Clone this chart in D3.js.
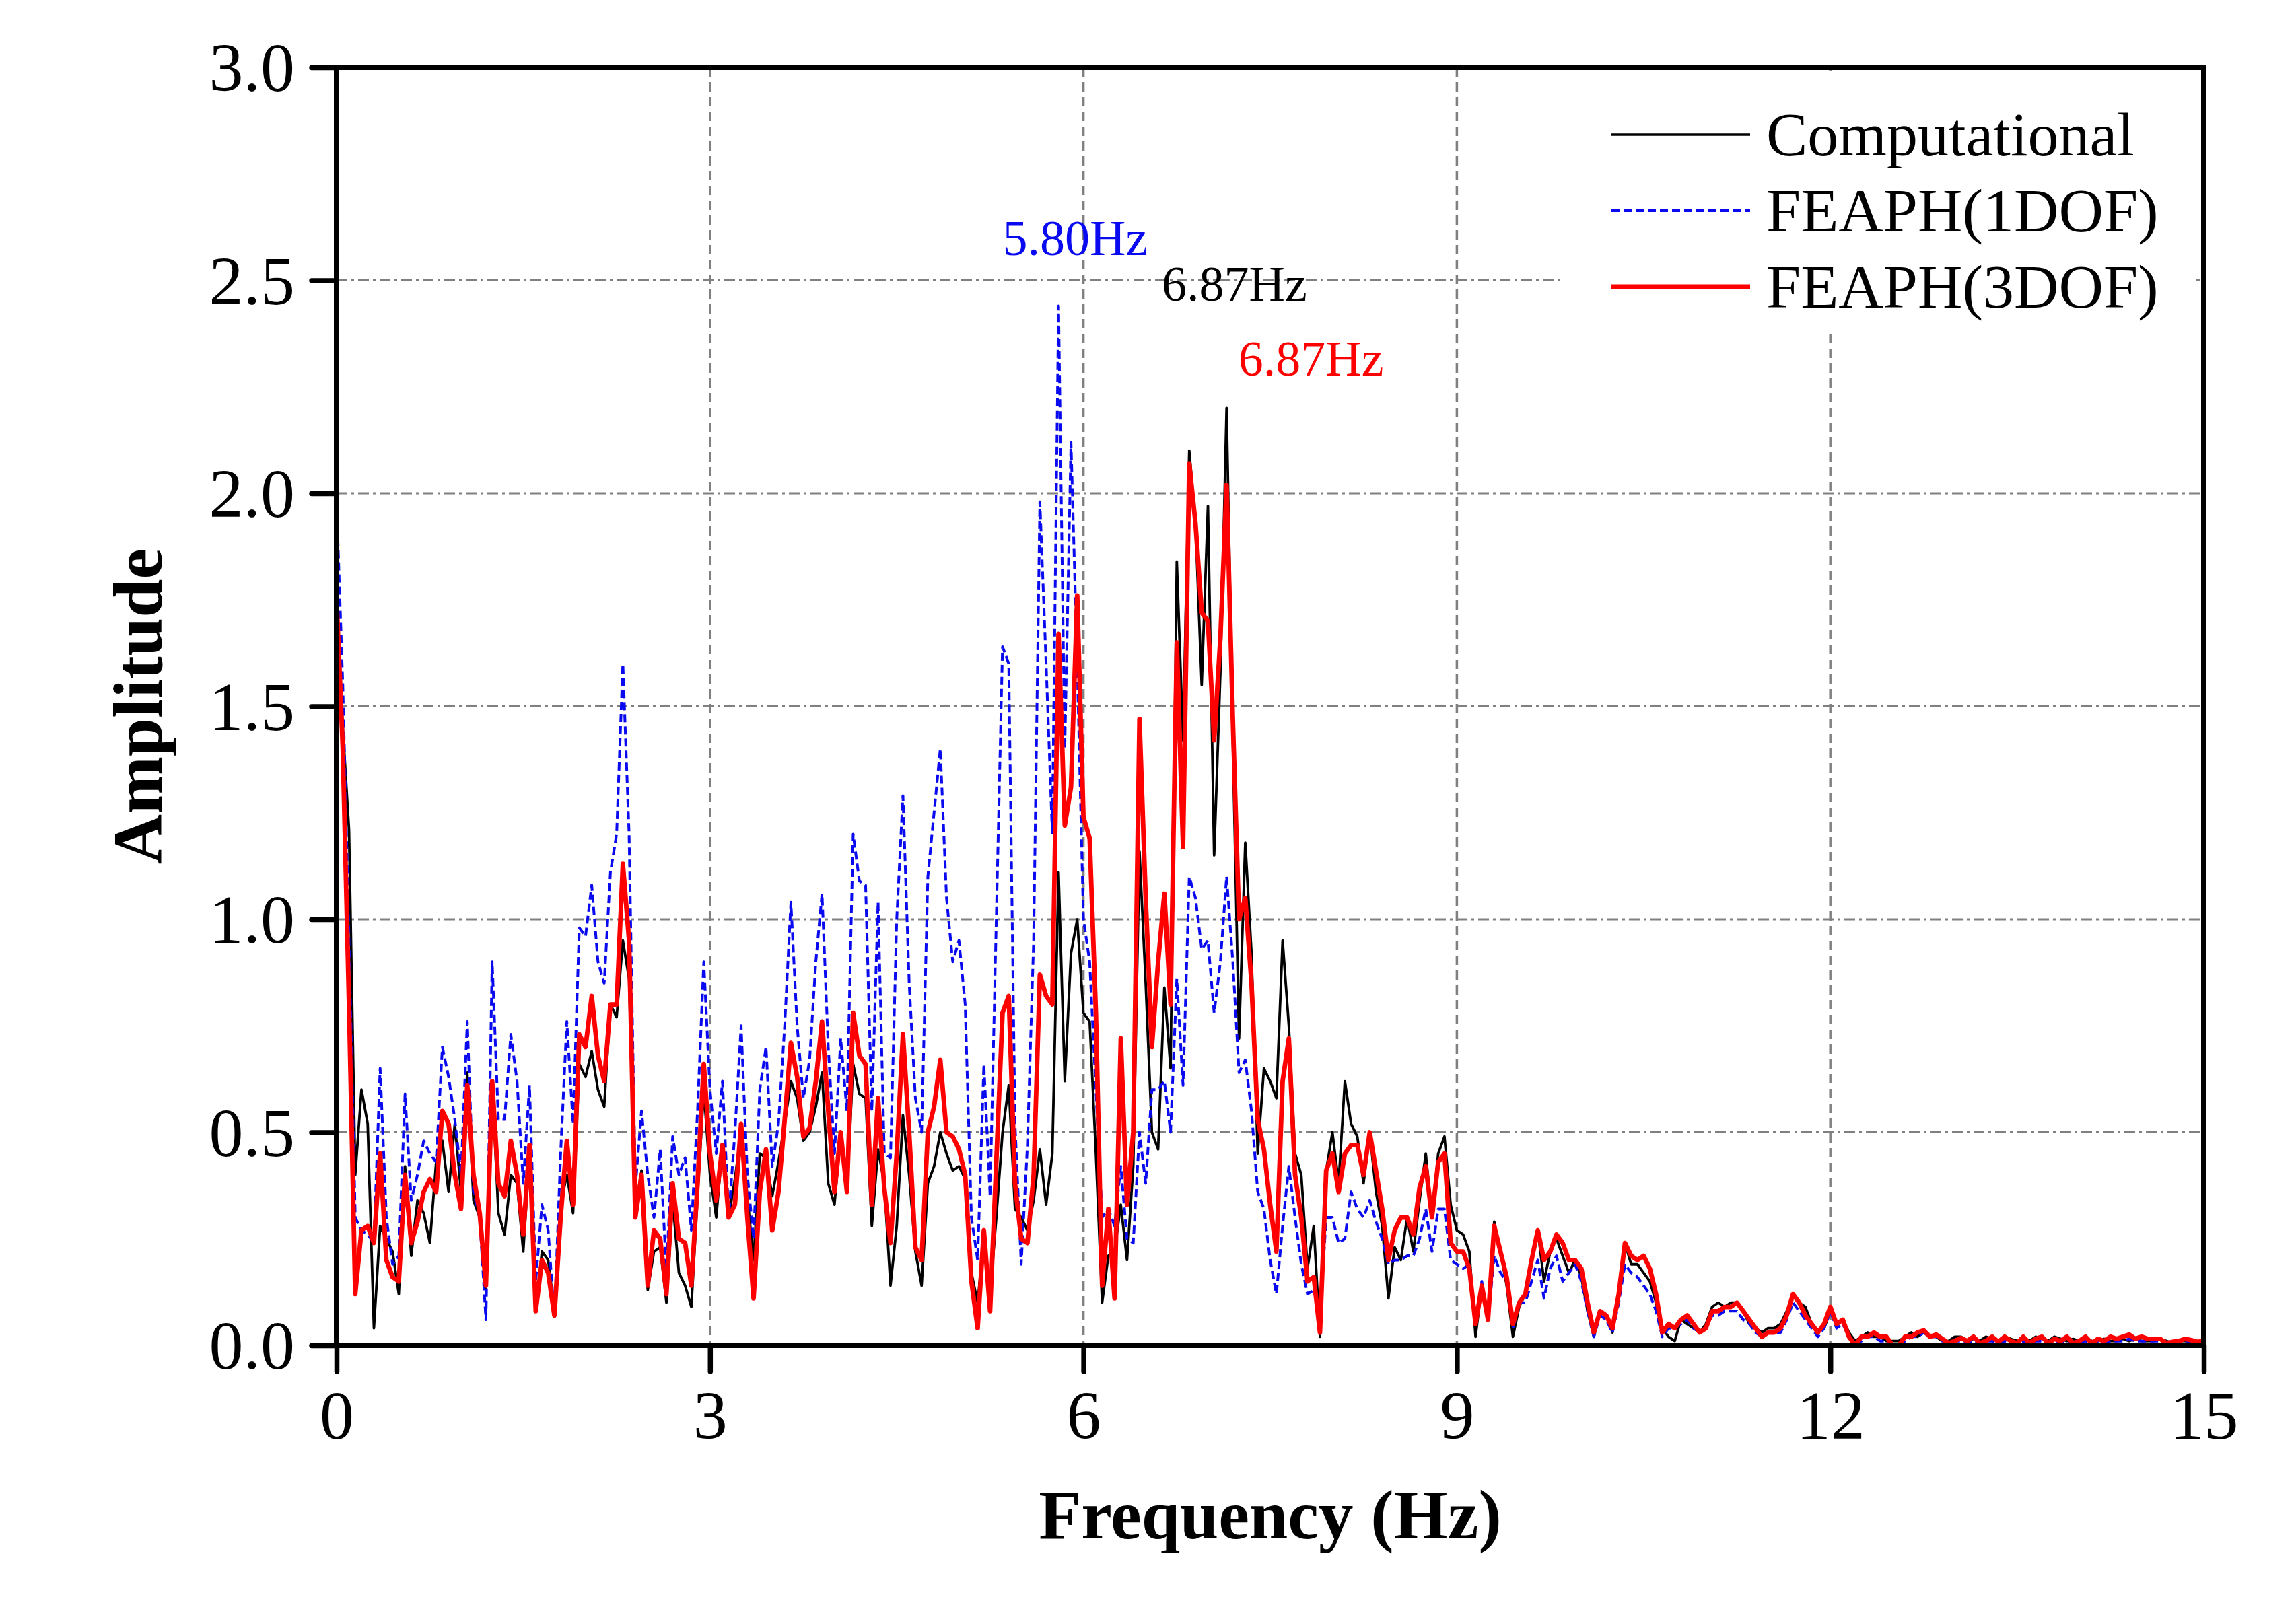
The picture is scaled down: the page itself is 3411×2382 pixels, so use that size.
<!DOCTYPE html>
<html><head><meta charset="utf-8">
<script src="https://cdn.jsdelivr.net/npm/d3@7"></script>
<style>
html,body{margin:0;padding:0;background:#fff;}
svg{display:block;}
</style></head>
<body>
<svg id="chart" width="3411" height="2382"></svg>
<script>
// ---------------- DATA ----------------
const freqStart = 0, freqStep = 0.05;   // Hz, FFT grid 0 .. 15 Hz
const computational = [
1.78,1.45,1.21,0.40,0.60,0.52,0.04,0.28,0.25,0.22,
0.12,0.42,0.21,0.34,0.31,0.24,0.43,0.48,0.36,0.52,
0.36,0.64,0.34,0.30,0.13,0.62,0.31,0.26,0.40,0.38,
0.22,0.45,0.08,0.22,0.20,0.08,0.33,0.40,0.31,0.66,
0.63,0.69,0.60,0.56,0.80,0.77,0.95,0.86,0.32,0.41,
0.13,0.22,0.23,0.10,0.34,0.17,0.14,0.09,0.35,0.60,
0.40,0.30,0.47,0.30,0.39,0.50,0.35,0.20,0.45,0.44,
0.35,0.43,0.52,0.62,0.58,0.48,0.50,0.56,0.64,0.38,
0.33,0.50,0.36,0.66,0.59,0.58,0.28,0.46,0.38,0.14,
0.28,0.54,0.40,0.22,0.14,0.38,0.42,0.50,0.45,0.41,
0.42,0.39,0.17,0.10,0.25,0.12,0.30,0.50,0.61,0.32,
0.30,0.27,0.34,0.46,0.33,0.45,1.11,0.62,0.92,1.00,
0.78,0.76,0.45,0.10,0.21,0.22,0.33,0.20,0.42,1.16,
0.85,0.50,0.46,0.84,0.65,1.84,1.42,2.10,1.93,1.55,
1.97,1.15,1.58,2.20,1.42,0.72,1.18,0.92,0.45,0.65,
0.62,0.58,0.95,0.75,0.45,0.40,0.18,0.28,0.02,0.41,
0.50,0.38,0.62,0.52,0.49,0.38,0.50,0.36,0.28,0.11,
0.23,0.20,0.30,0.22,0.34,0.45,0.30,0.45,0.49,0.33,
0.27,0.26,0.22,0.02,0.14,0.06,0.29,0.22,0.14,0.02,
0.09,0.12,0.20,0.27,0.15,0.22,0.25,0.21,0.17,0.20,
0.16,0.08,0.02,0.08,0.07,0.03,0.12,0.24,0.19,0.19,
0.17,0.15,0.10,0.04,0.02,0.01,0.06,0.05,0.04,0.03,
0.05,0.09,0.10,0.09,0.10,0.10,0.08,0.05,0.04,0.03,
0.04,0.04,0.05,0.08,0.12,0.10,0.09,0.05,0.03,0.04,
0.08,0.05,0.06,0.03,0.01,0.02,0.03,0.02,0.02,0.01,
0.01,0.01,0.02,0.03,0.02,0.03,0.02,0.02,0.01,0.01,
0.02,0.02,0.01,0.015,0.01,0.02,0.015,0.01,0.02,0.015,
0.01,0.015,0.01,0.02,0.015,0.01,0.02,0.015,0.01,0.015,
0.01,0.015,0.01,0.01,0.015,0.01,0.01,0.015,0.01,0.015,
0.01,0.01,0.01,0.015,0.01,0.005,0.01,0.01,0.008,0.01,
0.008];
const feaph1dof = [
1.98,1.55,0.95,0.30,0.27,0.26,0.24,0.65,0.30,0.19,
0.21,0.59,0.34,0.40,0.48,0.45,0.43,0.70,0.63,0.53,
0.40,0.76,0.36,0.30,0.06,0.90,0.53,0.53,0.73,0.62,
0.38,0.61,0.15,0.33,0.27,0.06,0.45,0.76,0.52,0.98,
0.96,1.08,0.90,0.85,1.11,1.20,1.60,1.20,0.37,0.55,
0.40,0.30,0.46,0.17,0.49,0.40,0.44,0.27,0.55,0.90,
0.60,0.45,0.62,0.30,0.50,0.75,0.40,0.25,0.60,0.70,
0.42,0.52,0.75,1.04,0.75,0.58,0.67,0.90,1.06,0.70,
0.45,0.72,0.55,1.20,1.09,1.08,0.55,1.04,0.45,0.44,
1.00,1.29,0.85,0.58,0.50,1.10,1.25,1.40,1.05,0.90,
0.95,0.80,0.30,0.20,0.66,0.35,1.00,1.64,1.60,0.52,
0.19,0.47,0.95,1.98,1.60,1.20,2.44,1.40,2.12,1.60,
1.00,0.90,0.60,0.30,0.32,0.28,0.42,0.25,0.24,0.50,
0.38,0.60,0.60,0.62,0.50,0.86,0.61,1.10,1.05,0.93,
0.95,0.78,0.90,1.10,0.90,0.64,0.67,0.55,0.36,0.32,
0.20,0.12,0.28,0.42,0.30,0.19,0.12,0.13,0.07,0.30,
0.30,0.24,0.25,0.36,0.32,0.30,0.34,0.29,0.25,0.19,
0.20,0.20,0.21,0.21,0.25,0.32,0.22,0.32,0.32,0.20,
0.19,0.18,0.19,0.05,0.15,0.06,0.21,0.17,0.15,0.04,
0.10,0.10,0.15,0.20,0.11,0.18,0.21,0.15,0.17,0.19,
0.15,0.08,0.02,0.07,0.06,0.03,0.10,0.19,0.17,0.16,
0.14,0.12,0.08,0.02,0.04,0.04,0.05,0.06,0.04,0.03,
0.04,0.07,0.07,0.08,0.08,0.08,0.06,0.05,0.03,0.02,
0.03,0.03,0.03,0.06,0.10,0.08,0.06,0.04,0.02,0.04,
0.08,0.04,0.05,0.02,0.00,0.01,0.02,0.02,0.01,0.01,
0.00,0.00,0.01,0.02,0.02,0.03,0.02,0.02,0.01,0.005,
0.01,0.01,0.005,0.01,0.005,0.01,0.01,0.005,0.01,0.005,
0.005,0.01,0.005,0.01,0.01,0.005,0.01,0.005,0.01,0.005,
0.005,0.01,0.005,0.01,0.005,0.01,0.01,0.01,0.015,0.01,
0.01,0.01,0.01,0.01,0.005,0.005,0.005,0.01,0.01,0.005,
0.005];
const feaph3dof = [
1.75,1.40,0.80,0.12,0.27,0.28,0.24,0.45,0.20,0.16,
0.15,0.40,0.24,0.29,0.36,0.39,0.36,0.55,0.52,0.40,
0.32,0.61,0.40,0.31,0.14,0.62,0.38,0.35,0.48,0.40,
0.26,0.47,0.08,0.20,0.17,0.07,0.30,0.48,0.33,0.73,
0.70,0.82,0.68,0.62,0.80,0.80,1.13,0.95,0.30,0.40,
0.14,0.27,0.25,0.12,0.38,0.25,0.24,0.14,0.38,0.66,
0.45,0.34,0.47,0.30,0.33,0.52,0.30,0.11,0.36,0.46,
0.27,0.36,0.53,0.71,0.63,0.49,0.51,0.62,0.76,0.55,
0.36,0.50,0.36,0.78,0.68,0.66,0.33,0.58,0.37,0.24,
0.45,0.73,0.50,0.23,0.20,0.50,0.56,0.67,0.50,0.49,
0.46,0.40,0.15,0.04,0.27,0.08,0.43,0.78,0.82,0.38,
0.25,0.24,0.40,0.87,0.82,0.80,1.67,1.22,1.31,1.76,
1.24,1.19,0.78,0.14,0.32,0.11,0.72,0.33,0.50,1.47,
1.05,0.70,0.90,1.06,0.80,1.65,1.17,2.07,1.93,1.72,
1.70,1.42,1.66,2.02,1.47,1.00,1.05,0.85,0.53,0.46,
0.33,0.22,0.62,0.72,0.40,0.30,0.15,0.16,0.03,0.41,
0.45,0.36,0.45,0.47,0.47,0.40,0.50,0.41,0.32,0.20,
0.27,0.30,0.30,0.26,0.37,0.42,0.30,0.43,0.45,0.24,
0.22,0.22,0.18,0.05,0.14,0.06,0.28,0.22,0.16,0.05,
0.10,0.12,0.20,0.27,0.20,0.22,0.26,0.24,0.20,0.20,
0.18,0.10,0.03,0.08,0.07,0.04,0.12,0.24,0.21,0.20,
0.21,0.18,0.12,0.03,0.05,0.04,0.06,0.07,0.05,0.03,
0.04,0.08,0.08,0.09,0.09,0.10,0.08,0.06,0.04,0.02,
0.03,0.03,0.04,0.07,0.12,0.10,0.07,0.05,0.03,0.05,
0.09,0.05,0.06,0.02,0.00,0.02,0.02,0.03,0.02,0.02,
0.00,0.00,0.02,0.02,0.03,0.035,0.02,0.025,0.015,0.005,
0.01,0.017,0.01,0.02,0.005,0.01,0.02,0.008,0.02,0.01,
0.005,0.02,0.005,0.015,0.02,0.005,0.015,0.01,0.02,0.005,
0.01,0.02,0.005,0.015,0.01,0.02,0.015,0.02,0.025,0.015,
0.02,0.015,0.015,0.015,0.005,0.008,0.01,0.015,0.012,0.008,
0.01];
const seriesNames = ["Computational", "FEAPH(1DOF)", "FEAPH(3DOF)"];
const xTickValues = [0, 3, 6, 9, 12, 15];
const yTickValues = [0, 0.5, 1.0, 1.5, 2.0, 2.5, 3.0];
const peakLabelTexts = ["5.80Hz", "6.87Hz", "6.87Hz"];
const peakLabelFreq  = [5.35, 6.63, 7.245];   // left edge of label, Hz
const peakLabelAmp   = [2.56, 2.452, 2.276];  // baseline of label, amplitude

// ---------------- LAYOUT / STYLE ----------------
const serif = "'Liberation Serif','Times New Roman',Times,serif";
const svg = d3.select("#chart");
const L = 500, R = 3274, T = 100, B = 1999;
const x = d3.scaleLinear().domain([0, 15]).range([L, R]);
const y = d3.scaleLinear().domain([0, 3]).range([B, T]);
const styles = [
  {color:"#000000", width:3.8, dash:null},
  {color:"#0a0af0", width:4, dash:"12,6"},
  {color:"#ff0000", width:6.8, dash:null}
];
const seriesData = [computational, feaph1dof, feaph3dof];

svg.append("rect").attr("width",3411).attr("height",2382).attr("fill","#fff");

svg.append("defs").append("clipPath").attr("id","clip")
  .append("rect").attr("x",L).attr("y",T).attr("width",R-L).attr("height",B-T);

// gridlines
const grid = svg.append("g");
grid.selectAll("line.vg").data(xTickValues.filter(v => v > 0 && v < 15)).enter()
  .append("line").attr("x1",d=>x(d)).attr("x2",d=>x(d)).attr("y1",T).attr("y2",B)
  .attr("stroke","#808080").attr("stroke-width",3.5).attr("stroke-dasharray","14,8");
grid.selectAll("line.hg").data(yTickValues.filter(v => v > 0 && v < 3)).enter()
  .append("line").attr("x1",L).attr("x2",R).attr("y1",d=>y(d)).attr("y2",d=>y(d))
  .attr("stroke","#808080").attr("stroke-width",3).attr("stroke-dasharray","16,6,4,6");

// legend background (covers grid)
svg.append("rect").attr("x",2317).attr("y",106).attr("width",945).attr("height",390).attr("fill","#fff");

// series lines
const line = d3.line()
  .x((d,i) => x(freqStart + i*freqStep))
  .y(d => y(d))
  .curve(d3.curveLinear);
const plot = svg.append("g").attr("clip-path","url(#clip)");
seriesData.forEach((s, k) => {
  plot.append("path").datum(s)
    .attr("d", line)
    .attr("fill","none")
    .attr("stroke", styles[k].color)
    .attr("stroke-width", styles[k].width)
    .attr("stroke-linejoin","round")
    .attr("stroke-dasharray", styles[k].dash);
});

// axes
const fmtY = d3.format(".1f");
const yAxis = d3.axisLeft(y).tickValues(yTickValues).tickFormat(fmtY).tickSize(37).tickPadding(25);
const xAxis = d3.axisBottom(x).tickValues(xTickValues).tickFormat(d3.format("d")).tickSize(39).tickPadding(28);
const gy = svg.append("g").attr("transform",`translate(${L},0)`).call(yAxis);
const gx = svg.append("g").attr("transform",`translate(0,${B})`).call(xAxis);
[gx, gy].forEach(g => {
  g.select(".domain").remove();
  g.selectAll(".tick line").attr("stroke","#000").attr("stroke-width",7.5).attr("stroke-linecap","round");
  g.selectAll(".tick text").attr("font-family",serif).attr("font-size",102).attr("fill","#000");
});
gy.selectAll(".tick text").attr("dy","0.34em");

// frame
svg.append("rect").attr("x",L).attr("y",T).attr("width",R-L).attr("height",B-T)
  .attr("fill","none").attr("stroke","#000").attr("stroke-width",8);

// axis titles
svg.append("text").attr("x",(L+R)/2).attr("y",2286).attr("text-anchor","middle")
  .attr("font-family",serif).attr("font-weight","bold").attr("font-size",103).text("Frequency (Hz)");
svg.append("text").attr("transform",`translate(240,${(T+B)/2}) rotate(-90)`).attr("text-anchor","middle")
  .attr("font-family",serif).attr("font-weight","bold").attr("font-size",103).text("Amplitude");

// peak annotations
const labelColors = ["#0a0af0", "#000000", "#ff0000"];
peakLabelTexts.forEach((t, i) => {
  svg.append("text").attr("x", x(peakLabelFreq[i])).attr("y", y(peakLabelAmp[i]))
    .attr("font-family",serif).attr("font-size",74).attr("fill",labelColors[i]).text(t);
});

// legend
const legY0 = 200, legDy = 113;
seriesNames.forEach((name, k) => {
  const yy = legY0 + k*legDy;
  svg.append("line").attr("x1",2394).attr("x2",2600).attr("y1",yy).attr("y2",yy)
    .attr("stroke",styles[k].color).attr("stroke-width",k===2?7:(k===1?4:3.4))
    .attr("stroke-dasharray",styles[k].dash);
  svg.append("text").attr("x",2624).attr("y",yy+31)
    .attr("font-family",serif).attr("font-size",92).attr("fill","#000").text(name);
});
</script>
</body></html>
